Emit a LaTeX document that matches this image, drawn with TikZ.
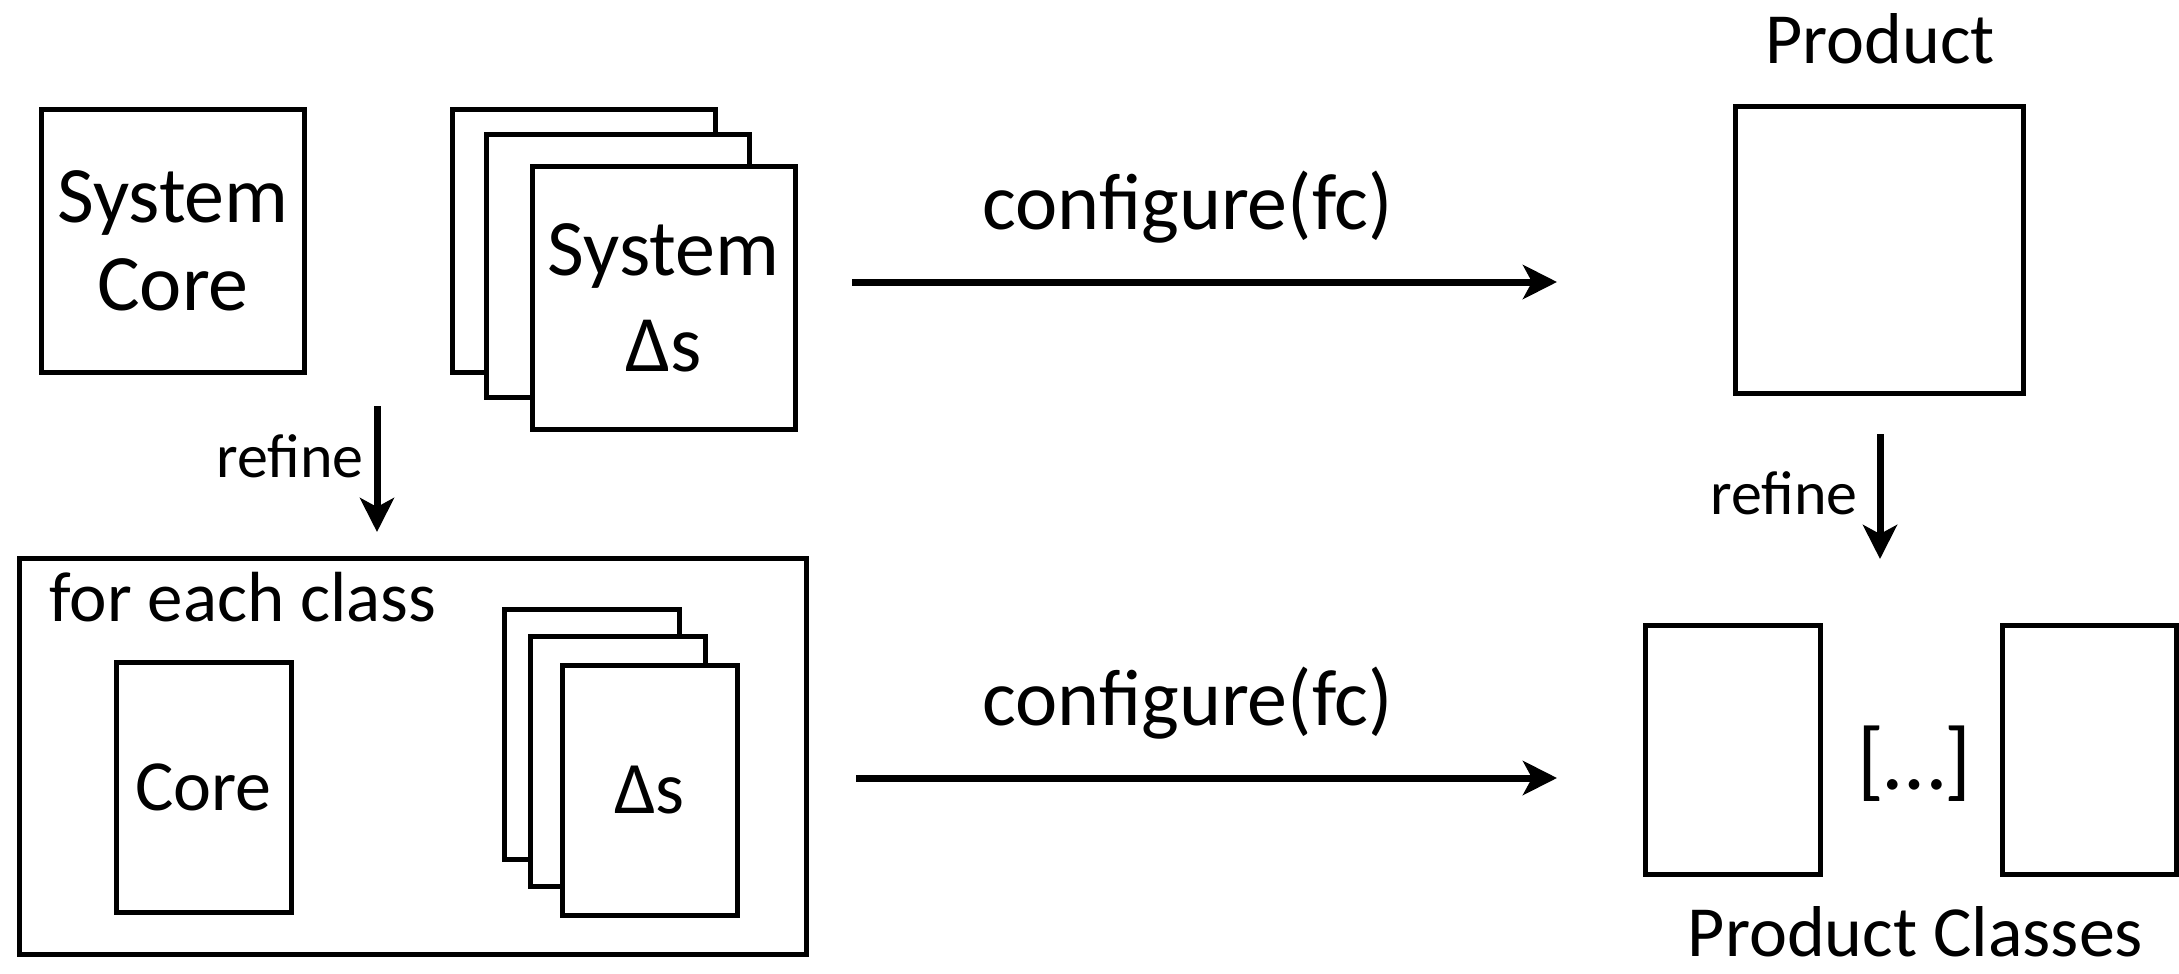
\documentclass[tikz,border=0pt]{standalone}
\usepackage{fontspec}
\setmainfont{Carlito}
\usetikzlibrary{arrows.meta}
\begin{document}
\begin{tikzpicture}[x=0.5pt, y=-0.5pt,
  box/.style 2 args={draw, line width=2.5pt, fill=white, inner sep=0pt, align=center,
    minimum width={#1*0.5pt-2.5pt}, minimum height={#2*0.5pt-2.5pt}},
  flow/.style={line width=3.5pt, -{Stealth[length=17pt, width=17pt, inset=4.5pt]}},
  large/.style={font=\fontsize{40}{44}\selectfont},
  medium/.style={font=\fontsize{36}{40}\selectfont},
  small/.style={font=\fontsize{31}{36}\selectfont},
  lbl/.style={inner sep=0pt}
]
\useasboundingbox (0,0) rectangle (2179,974);

% system level: core and stacked deltas
\node[box={268}{268}, large] (sysCore) at (173,241) {System\\Core};
\node[box={268}{268}] (sysDeltaA) at (584,241) {};
\node[box={268}{268}] (sysDeltaB) at (618,266) {};
\node[box={268}{268}, font=\fontsize{40}{48}\selectfont] (sysDeltaC) at (663.5,297.5) {System\\Δs};

% per-class frame
\node[box={792}{401}] (frame) at (413,756.5) {};
\node[lbl, font=\fontsize{35.5}{40}\selectfont, anchor=base west] (forEach) at (49,621) {for each class};
\node[box={180}{255}, medium] (classCore) at (203.5,787) {Core};
\node[box={180}{255}] (classDeltaA) at (591.5,734) {};
\node[box={180}{255}] (classDeltaB) at (618,761.5) {};
\node[box={180}{255}, font=\fontsize{37}{40}\selectfont] (classDeltaC) at (649.5,790) {Δs};

% product side
\node[lbl, medium, anchor=base] (productLbl) at (1880,64) {Product};
\node[box={293}{292}] (product) at (1879.5,250) {};
\node[box={180}{254}] (classA) at (1733,750) {};
\node[lbl, font=\fontsize{44}{48}\selectfont] (dots) at (1914.5,764) {[…]};
\node[box={179}{254}] (classB) at (2089.5,750) {};
\node[lbl, medium, anchor=base] (classesLbl) at (1915.5,956) {Product Classes};

% connectors
\coordinate (cfgTopS) at (852,282);
\coordinate (cfgTopE) at (1557,282);
\coordinate (cfgBotS) at (856,778);
\coordinate (cfgBotE) at (1557,778);
\coordinate (refLS) at (377,406);
\coordinate (refLE) at (377,532);
\coordinate (refRS) at (1880,434);
\coordinate (refRE) at (1880,559);

\draw[flow] (cfgTopS) -- (cfgTopE);
\draw[flow] (cfgBotS) -- (cfgBotE);
\draw[flow] (refLS) -- (refLE);
\draw[flow] (refRS) -- (refRE);

\node[lbl, large, anchor=base] (cfgTop) at (1187.5,229) {configure(fc)};
\node[lbl, large, anchor=base] (cfgBot) at (1187.5,725) {configure(fc)};
\node[lbl, small, anchor=base east] (refL) at (364,477) {refine};
\node[lbl, small, anchor=base east] (refR) at (1858,514) {refine};
\end{tikzpicture}
\end{document}
